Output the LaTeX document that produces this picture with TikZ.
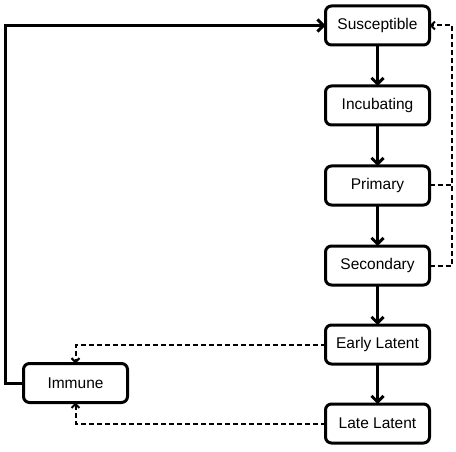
\documentclass[tikz,border=0pt]{standalone}
\usepackage{fontspec}
\setmainfont{Liberation Sans}
\usetikzlibrary{positioning, arrows.meta}

\tikzset{
    stage/.style={draw, line width=3pt, outer sep=0pt, rounded corners=6pt, minimum width=104pt, minimum height=39pt, inner sep=0pt, font=\fontsize{15.5}{18}\selectfont},
    flow/.style={line width=3pt, -{Straight Barb[length=6pt, width=12pt, line width=3pt]}},
    recover/.style={line width=2pt, dash pattern=on 5pt off 3pt},
    recoverarrow/.style={recover, -{Straight Barb[length=4pt, width=8pt, line width=2pt]}}
}

\begin{document}
\begin{tikzpicture}[x=1pt, y=-1pt]
        \useasboundingbox (0,0) rectangle (456,452);

        \node[stage] (susceptible) at (377.5,25.5) {Susceptible};
        \node[stage, below=41pt of susceptible] (incubating) {Incubating};
        \node[stage, below=41pt of incubating] (primary) {Primary};
        \node[stage, below=41pt of primary] (secondary) {Secondary};
        \node[stage, below=40pt of secondary] (early) {Early Latent};
        \node[stage, below=40pt of early] (late) {Late Latent};
        \node[stage] (immune) at (75.5,383) {Immune};

        \draw[flow] (susceptible) -- (incubating);
        \draw[flow] (incubating) -- (primary);
        \draw[flow] (primary) -- (secondary);
        \draw[flow] (secondary) -- (early);
        \draw[flow] (early) -- (late);
        \draw[flow] (immune.west) -- ++(-18,0) |- (susceptible.west);

        \draw[recoverarrow] (secondary.east) -- ++(22,0) |- (susceptible.east);
        \draw[recover] (primary.east) -- ++(22,0);

        \draw[recoverarrow] (early.west) -| (immune.north);
        \draw[recoverarrow] (late.west) -| (immune.south);
\end{tikzpicture}
\end{document}
